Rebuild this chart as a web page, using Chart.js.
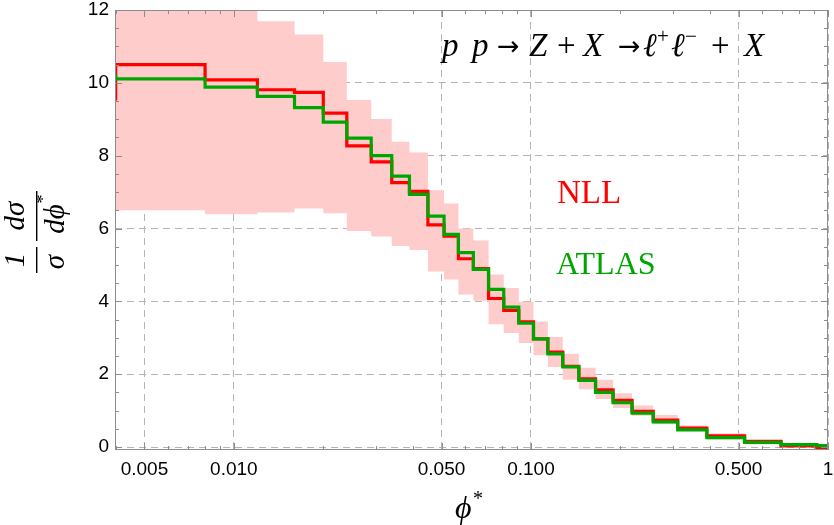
<!DOCTYPE html>
<html>
<head>
<meta charset="utf-8">
<script src="https://cdn.jsdelivr.net/npm/chart.js@4/dist/chart.umd.min.js"></script>
<style>
  html, body { margin: 0; padding: 0; background: #fff; }
  #wrap { width: 834px; height: 525px; position: relative; }
</style>
</head>
<body>
<div id="wrap"><canvas id="grafico"></canvas></div>
<script>
(function () {
  "use strict";

  // bin edges in phi* (first bin really starts at 0, clipped by the log axis)
  var binEdges = [0.002, 0.004, 0.008, 0.012, 0.016, 0.020, 0.024, 0.029, 0.034, 0.039, 0.045,
    0.051, 0.057, 0.064, 0.072, 0.081, 0.091, 0.102, 0.114, 0.128, 0.145, 0.165, 0.189,
    0.219, 0.258, 0.312, 0.391, 0.524, 0.695, 0.918, 1.153];
  var nll = [9.56, 10.50, 10.08, 9.81, 9.74, 9.17, 8.27, 7.83, 7.26, 7.02, 6.10, 5.79, 5.17,
    4.90, 4.08, 3.75, 3.44, 2.97, 2.61, 2.22, 1.87, 1.57, 1.28, 0.98, 0.74, 0.52, 0.31,
    0.16, 0.03, -0.03];
  var atlas = [10.20, 10.11, 9.88, 9.63, 9.32, 8.92, 8.48, 8.00, 7.44, 6.94, 6.34, 5.84, 5.34,
    4.88, 4.33, 3.84, 3.40, 2.97, 2.56, 2.20, 1.83, 1.50, 1.22, 0.93, 0.69, 0.47, 0.26,
    0.13, 0.07, 0.04];
  var nllHigh = [12.5, 12.5, 12.5, 11.69, 11.33, 10.57, 9.53, 9.01, 8.38, 8.09, 7.05, 6.69, 6.00,
    5.67, 4.74, 4.37, 3.99, 3.45, 3.02, 2.56, 2.18, 1.85, 1.48, 1.14, 0.88, 0.59, 0.37,
    0.18, 0.10, 0.05];
  var nllLow = [6.25, 6.50, 6.39, 6.44, 6.55, 6.42, 5.93, 5.78, 5.52, 5.41, 4.82, 4.60, 4.19,
    4.02, 3.37, 3.13, 2.86, 2.52, 2.20, 1.85, 1.59, 1.32, 1.07, 0.86, 0.63, 0.44, 0.21,
    0.07, 0.00, -0.06];

  var xTicks = [0.005, 0.01, 0.05, 0.1, 0.5, 1];
  var xTickLabels = ["0.005", "0.010", "0.050", "0.100", "0.500", "1"];
  var yTicks = [0, 2, 4, 6, 8, 10, 12];

  var VERMELHO = "#ff0000", VERDE = "#00a600", ROSA = "rgb(255,204,204)";
  var CINZA = "#8c8c8c";
  var SERIF = "'Liberation Serif', 'Times New Roman', serif";
  var SANS = "'Liberation Sans', Arial, sans-serif";

  // histogram as stepped points: one per bin start, plus the last edge
  function degraus(vals) {
    var pts = vals.map(function (v, i) { return { x: binEdges[i], y: v }; });
    pts.push({ x: binEdges[vals.length], y: vals[vals.length - 1] });
    return pts;
  }

  // minor tick values on the log axis
  function menoresX(min, max) {
    var out = [];
    for (var e = -3; e <= 0; e++) {
      for (var k = 1; k <= 9; k++) {
        var v = k * Math.pow(10, e);
        if (v >= min && v <= max * 1.0001 && xTicks.indexOf(+v.toPrecision(6)) < 0) out.push(v);
      }
    }
    return out;
  }

  var moldura = {
    id: "moldura",
    afterDatasetsDraw: function (c) {
      var ctx = c.ctx, a = c.chartArea, xs = c.scales.x, ys = c.scales.y;
      ctx.save();
      ctx.strokeStyle = CINZA; ctx.lineWidth = 1;
      ctx.strokeRect(a.left + 0.5, a.top + 0.5, a.right - a.left - 1, a.bottom - a.top - 1);
      ctx.beginPath();
      function tx(v, len) {
        var p = Math.round(xs.getPixelForValue(v)) + 0.5;
        ctx.moveTo(p, a.bottom); ctx.lineTo(p, a.bottom - len);
        ctx.moveTo(p, a.top); ctx.lineTo(p, a.top + len);
      }
      function ty(v, len) {
        var p = Math.round(ys.getPixelForValue(v)) + 0.5;
        ctx.moveTo(a.left, p); ctx.lineTo(a.left + len, p);
        ctx.moveTo(a.right, p); ctx.lineTo(a.right - len, p);
      }
      xTicks.forEach(function (v) { tx(v, 7); });
      menoresX(xs.min, xs.max).forEach(function (v) { tx(v, 4); });
      for (var v = 0; v <= 12.001; v += 0.5) ty(v, (v % 2 === 0) ? 7 : 4);
      ctx.stroke();
      ctx.restore();
    },
    afterDraw: function (c) {
      var ctx = c.ctx;
      ctx.save();
      ctx.fillStyle = "#000";
      ctx.textBaseline = "alphabetic";

      // processo no canto superior direito: [x, texto, italico, tipo]
      var pedacos = [
        [442, "p", 1, 0], [472, "p", 1, 0], [497, "\u2192", 0, 2], [529, "Z", 1, 0],
        [557, "+", 0, 0], [583, "X", 1, 0], [618, "\u2192", 0, 2], [643, "\u2113", 1, 0],
        [657, "+", 0, 1], [671, "\u2113", 1, 0], [685, "\u2212", 0, 1], [711, "+", 0, 0],
        [744, "X", 1, 0]
      ];
      pedacos.forEach(function (p) {
        if (p[3] === 2) {
          ctx.font = "27px 'DejaVu Sans', sans-serif";
          ctx.fillText(p[1], p[0], 55);
          return;
        }
        var tam = p[3] ? 21 : 33;
        ctx.font = (p[2] ? "italic " : "") + tam + "px " + SERIF;
        ctx.fillText(p[1], p[0], p[3] ? 43 : 56);
      });

      ctx.font = "33px " + SERIF;
      ctx.fillStyle = VERMELHO; ctx.fillText("NLL", 557, 203);
      ctx.font = "32px " + SERIF;
      ctx.fillStyle = VERDE; ctx.fillText("ATLAS", 556, 274);

      // rotulo do eixo x
      ctx.fillStyle = "#000";
      ctx.font = "italic 32px " + SERIF;
      ctx.fillText("\u03d5", 455, 518);
      ctx.font = "20px " + SERIF;
      ctx.fillText("*", 473, 505);

      // rotulo do eixo y (fracao rotacionada)
      ctx.translate(37, 0);
      ctx.rotate(-Math.PI / 2);
      ctx.textAlign = "center";
      ctx.font = "italic 29px " + SERIF;
      ctx.fillText("1", -260, -13);
      ctx.fillText("\u03c3", -262, 27);
      ctx.fillText("d\u03c3", -216, -13);
      ctx.fillText("d\u03d5", -219, 27);
      ctx.font = "18px " + SERIF;
      ctx.fillText("*", -199, 12);
      ctx.fillRect(-273, -1, 26, 1.4);
      ctx.fillRect(-241, -1, 50, 1.4);
      ctx.restore();
    }
  };

  var linha = function (rotulo, vals, cor, ordem) {
    return { label: rotulo, data: degraus(vals), borderColor: cor, borderWidth: 3.2,
      stepped: "before", pointRadius: 0, fill: false, order: ordem };
  };

  new Chart(document.getElementById("grafico"), {
    type: "line",
    data: {
      datasets: [
        { label: "NLL max", data: degraus(nllHigh), borderWidth: 0, borderColor: ROSA,
          backgroundColor: ROSA, stepped: "before", pointRadius: 0, fill: "+1", order: 3 },
        { label: "NLL min", data: degraus(nllLow), borderWidth: 0, borderColor: ROSA,
          stepped: "before", pointRadius: 0, fill: false, order: 2 },
        linha("NLL", nll, VERMELHO, 1),
        linha("ATLAS", atlas, VERDE, 0)
      ]
    },
    plugins: [moldura],
    options: {
      responsive: true, maintainAspectRatio: false, animation: false,
      layout: { padding: { top: 10, right: 6, left: 0, bottom: 0 } },
      scales: {
        x: {
          type: "logarithmic", min: 0.00398, max: 1,
          afterBuildTicks: function (s) { s.ticks = xTicks.map(function (v) { return { value: v }; }); },
          afterFit: function (s) { s.height = 75; s.paddingLeft = 0; s.paddingRight = 0; },
          ticks: { autoSkip: false, maxRotation: 0, padding: 8, color: "#000",
            font: { family: SANS, size: 19 },
            callback: function (v, i) { return xTickLabels[i]; } },
          grid: { color: "#b4b4b4", lineWidth: 1, drawTicks: false },
          border: { display: false, dash: [7, 5] }
        },
        y: {
          min: -0.08, max: 12,
          afterBuildTicks: function (s) { s.ticks = yTicks.map(function (v) { return { value: v }; }); },
          afterFit: function (s) { s.width = 115; s.paddingTop = 0; s.paddingBottom = 0; },
          ticks: { padding: 6, color: "#000", font: { family: SANS, size: 19 } },
          grid: { color: "#b4b4b4", lineWidth: 1, drawTicks: false },
          border: { display: false, dash: [7, 5] }
        }
      },
      plugins: { legend: { display: false }, tooltip: { enabled: false } }
    }
  });
})();
</script>
</body>
</html>
